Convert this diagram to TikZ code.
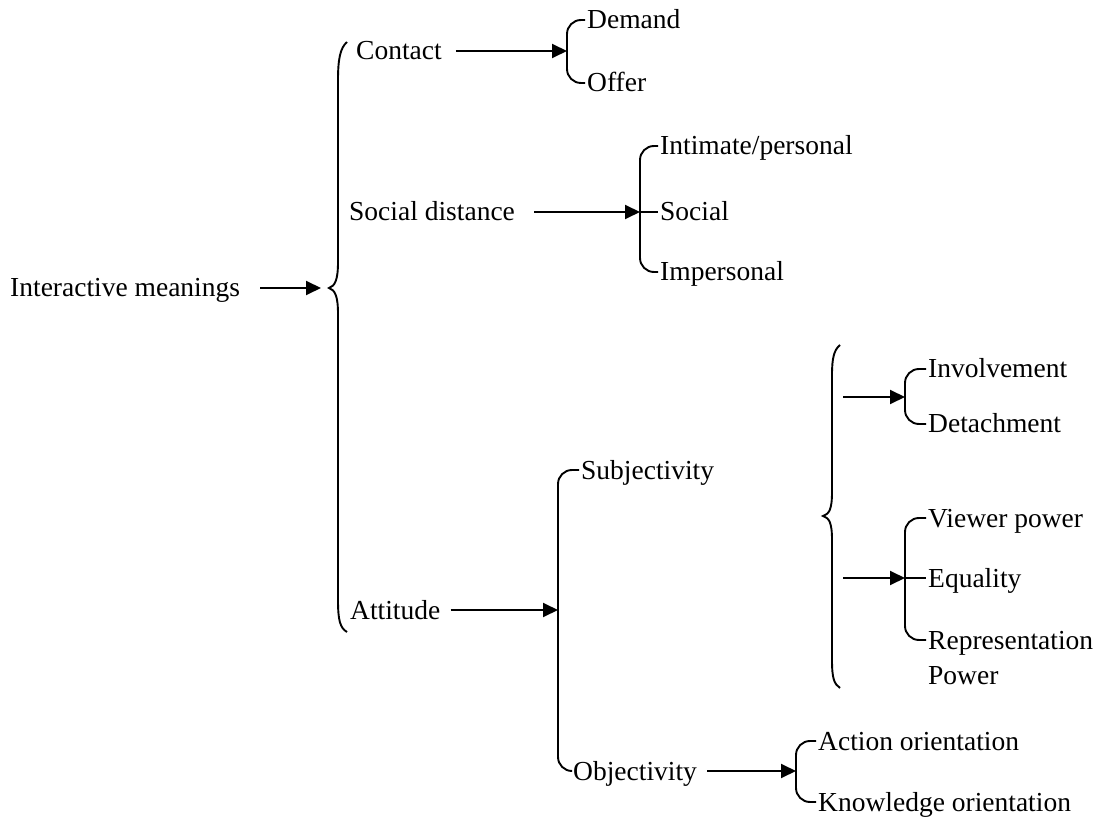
\documentclass[tikz,border=0pt]{standalone}
\usepackage{fontspec}
\setmainfont{Liberation Serif}
\usetikzlibrary{arrows.meta}
\begin{document}
\begin{tikzpicture}[x=1pt,y=-1pt,
  lbl/.style={anchor=west,inner sep=0pt,font=\fontsize{27.5}{30}\selectfont,text height=18pt,text depth=0pt},
  ln/.style={line width=1.9pt},
  arr/.style={line width=1.9pt,-{Triangle[length=15pt,width=14pt]}},
  brk/.style={line width=1.9pt,rounded corners=14pt}]
\useasboundingbox (0,0) rectangle (1104,818);
% labels
\node[lbl] (im)   at (10,288)  {Interactive meanings};
\node[lbl] (con)  at (356,51)  {Contact};
\node[lbl] (dem)  at (587,20)  {Demand};
\node[lbl] (off)  at (587,83)  {Offer};
\node[lbl] (sd)   at (349,212) {Social distance};
\node[lbl] (int)  at (660,146) {Intimate/personal};
\node[lbl] (soc)  at (660,212) {Social};
\node[lbl] (imp)  at (660,272) {Impersonal};
\node[lbl] (att)  at (350,610) {Attitude};
\node[lbl] (subj) at (581,470) {Subjectivity};
\node[lbl] (obj)  at (573,771) {Objectivity};
\node[lbl] (act)  at (818,741) {Action orientation};
\node[lbl] (know) at (818,802) {Knowledge orientation};
\node[lbl] (inv)  at (928,369) {Involvement};
\node[lbl] (det)  at (928,424) {Detachment};
\node[lbl] (vp)   at (928,518) {Viewer power};
\node[lbl] (eq)   at (928,578) {Equality};
\node[lbl] (rep)  at (928,640) {Representation};
\node[lbl] (pow)  at (928,675) {Power};
% bracket joints
\coordinate (cbx) at (567,51);
\coordinate (sbx) at (640,212);
\coordinate (abx) at (558,610);
\coordinate (obx) at (796,771);
\coordinate (ibx) at (905,397);
\coordinate (ebx) at (905,578);
\coordinate (lbt) at (321,288);
\coordinate (rbu) at (843,397);
\coordinate (rbl) at (843,578);
% big left brace
\draw[ln] (347,42) .. controls (340,48) and (338,60) .. (338,80) -- (338,262)
  .. controls (338,280) and (335,286) .. (329,288)
  .. controls (335,290) and (338,296) .. (338,314) -- (338,600)
  .. controls (338,620) and (340,628) .. (347,632);
% big right brace
\draw[ln] (840,345) .. controls (834,350) and (832,358) .. (832,375) -- (832,492)
  .. controls (832,510) and (829,514) .. (823,516)
  .. controls (829,518) and (832,522) .. (832,540) -- (832,660)
  .. controls (832,678) and (834,684) .. (840,688);
% brackets
\draw[brk] ([xshift=-2pt]dem.west) -| (cbx) |- ([xshift=-2pt]off.west);
\draw[brk] ([xshift=-2pt]int.west) -| (sbx) |- ([xshift=-2pt]imp.west);
\draw[ln] (sbx) -- ([xshift=-2pt]soc.west);
\draw[brk] ([xshift=-2pt]subj.west) -| (abx) |- ([xshift=-2pt]obj.west);
\draw[brk] ([xshift=-2pt]act.west) -| (obx) |- ([xshift=-2pt]know.west);
\draw[brk] ([xshift=-2pt]inv.west) -| (ibx) |- ([xshift=-2pt]det.west);
\draw[brk] ([xshift=-2pt]vp.west) -| (ebx) |- ([xshift=-2pt]rep.west);
\draw[ln] (ebx) -- ([xshift=-2pt]eq.west);
% arrows
\draw[arr,shorten <=20pt] (im.east) -- (lbt);
\draw[arr,shorten <=14pt] (con.east) -- (cbx);
\draw[arr,shorten <=19pt] (sd.east) -- (sbx);
\draw[arr,shorten <=10pt] (att.east) -- (abx);
\draw[arr,shorten <=10pt] (obj.east) -- (obx);
\draw[arr] (rbu) -- (ibx);
\draw[arr] (rbl) -- (ebx);
\end{tikzpicture}
\end{document}
